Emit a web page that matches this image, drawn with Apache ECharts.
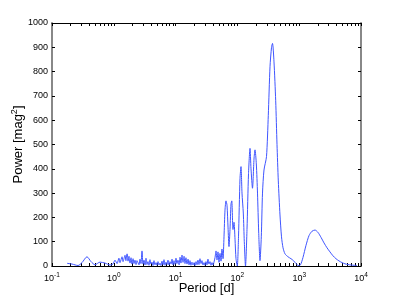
<!DOCTYPE html>
<html><head><meta charset="utf-8">
<script src="https://cdn.jsdelivr.net/npm/echarts@6/dist/echarts.min.js"></script>
<style>html,body{margin:0;padding:0;background:#fff}#c{width:399px;height:300px}</style>
</head><body><div id="c"></div>
<script>
const periods = [0.175,0.211,0.264,0.306,0.368,0.428,0.496,0.598,0.721,0.869,0.97,1.045,1.13,1.21,1.26,1.36,1.41,1.52,1.57,1.64,1.70,1.76,1.83,1.90,1.97,2.05,2.12,2.20,2.29,2.37,2.56,2.65,2.75,2.86,2.97,3.08,3.20,3.32,3.44,3.57,3.71,3.85,4.00,4.15,4.31,4.47,4.64,4.82,5.00,5.19,5.39,5.59,5.80,6.02,6.25,6.49,6.74,6.99,7.26,7.53,7.82,8.12,8.43,8.75,9.08,9.42,9.78,10.15,10.5,10.9,11.4,11.8,12.2,12.7,13.2,13.7,14.2,14.7,15.3,15.9,16.5,17.1,17.7,18.4,19.1,19.9,20.6,21.4,22.2,23.0,23.9,24.8,25.8,26.7,27.8,28.8,29.9,31.0,32.2,33.4,34.7,36.0,37.4,38.8,40.3,41.8,43.4,45.1,46.8,48.5,50.4,52.3,54.3,56.3,58.5,60.7,63.0,65.4,67.9,70.5,73.1,75.9,78.8,81.1,84.9,88.1,91.5,94.9,99.6,104.2,110.2,114.4,118.7,124.6,129.3,135.2,143.0,151.3,160.0,166.0,175.5,185.6,192.7,202.4,211.5,221.0,232.0,243.6,254.8,269.3,295.6,316.2,337.0,356.5,369.8,391.0,416.6,437.5,459.0,488.9,517.2,547.3,589.2,658.8,736.5,808.6,887.6,974.7,1050,1151,1288,1441,1611,1803,2015,2254,2520,2817,3148,3521,3936,4401,4928,5508,6160,6887,7709,8610];
const power = [11,8,2,14,38,18,5,16,12,4,8,24,10,32,14,38,18,44,22,50,20,40,12,34,8,30,10,24,6,22,5,28,10,62,8,24,4,32,6,18,3,26,8,16,2,22,5,14,3,18,4,12,2,20,5,26,3,16,6,24,4,18,8,28,5,22,7,32,10,24,5,36,12,45,15,40,10,34,8,28,5,22,3,16,4,14,2,18,5,24,6,30,10,22,4,14,3,18,5,28,8,18,3,14,4,16,34,62,25,58,15,52,20,70,30,120,230,268,250,160,80,150,255,268,150,180,110,30,0,120,360,409,300,218,100,0,150,380,484,400,320,440,478,420,300,140,22,120,300,395,450,620,820,900,916,840,680,500,350,210,120,75,50,38,30,22,10,2,5,35,85,125,143,148,138,118,95,75,58,42,30,21,14,9,6,4,3,2];
const xDecades = [0.1,1,10,100,1000,10000];
const xMinorMult = [2,3,4,5,6,7,8,9];
const yTicks = [0,100,200,300,400,500,600,700,800,900,1000];

const xTickVals = [];
xDecades.forEach((d,i)=>{ xTickVals.push(d); if(i<xDecades.length-1) xMinorMult.forEach(m=>xTickVals.push(+(d*m).toPrecision(3))); });
const data = periods.map((p,i)=>[p, power[i]]);
const FONT = 'Liberation Sans';
const supRich = {
  b:{fontSize:9,fontFamily:FONT,color:'#000'},
  s:{fontSize:6.5,fontFamily:FONT,color:'#000',verticalAlign:'top',padding:[0,0,7,0]}
};
function expLabel(v){
  const e = Math.round(Math.log10(v));
  if (Math.abs(v - Math.pow(10,e)) > 1e-9*Math.pow(10,e)) return '';
  return '{b|10}{s|' + e + '}';
}
const chart = echarts.init(document.getElementById('c'), null, {renderer:'canvas'});
const axCommonX = {
  type:'log', logBase:10, min:0.1, max:10000,
  axisLine:{show:true,onZero:false,lineStyle:{color:'#000',width:1}},
  axisTick:{show:true,inside:true,length:3,customValues:xTickVals,lineStyle:{color:'#000',width:1}},
  splitLine:{show:false}, minorTick:{show:false}
};
chart.setOption({
  animation:false,
  grid:{left:52,right:38,top:23,bottom:34,containLabel:false,outerBoundsMode:'none'},
  xAxis:[
    Object.assign({}, axCommonX, {
      position:'bottom',
      name:'Period [d]', nameLocation:'middle', nameGap:16, nameMoveOverlap:false,
      nameTextStyle:{fontFamily:FONT,fontSize:13,color:'#000'},
      axisLabel:{show:true,margin:6,customValues:xDecades,formatter:expLabel,rich:supRich}
    }),
    Object.assign({}, axCommonX, {position:'top', axisLabel:{show:false}})
  ],
  yAxis:[
    {type:'value',min:0,max:1000,interval:100,position:'left',
     name:'Power [mag{s|2}]', nameLocation:'middle', nameGap:25, nameRotate:90, nameMoveOverlap:false,
     nameTextStyle:{fontFamily:FONT,fontSize:13,color:'#000',
       rich:{s:{fontSize:9,fontFamily:FONT,color:'#000',verticalAlign:'top',padding:[0,0,8,0]}}},
     axisLine:{show:true,lineStyle:{color:'#888',width:2}},
     axisTick:{show:true,inside:true,length:3,lineStyle:{color:'#000'}},
     axisLabel:{fontFamily:FONT,fontSize:9,color:'#000',margin:4,formatter:v=>String(v)},
     splitLine:{show:false}},
    {type:'value',min:0,max:1000,interval:100,position:'right',
     axisLine:{show:true,lineStyle:{color:'#888',width:2}},
     axisTick:{show:true,inside:true,length:3,lineStyle:{color:'#000'}},
     axisLabel:{show:false}, splitLine:{show:false}}
  ],
  series:[{
    type:'line', data:data, showSymbol:false, smooth:0.25,
    lineStyle:{color:'#3f55ff',width:1}, clip:true
  }]
});
</script></body></html>
